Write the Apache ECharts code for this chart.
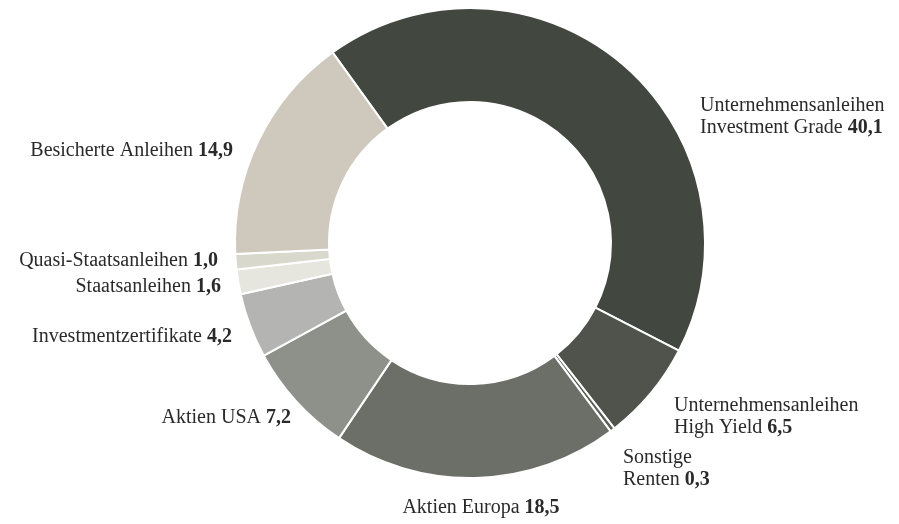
<!DOCTYPE html>
<html>
<head>
<meta charset="utf-8">
<script src="https://cdn.jsdelivr.net/npm/echarts@6/dist/echarts.min.js"></script>
<style>
  html, body { margin: 0; padding: 0; background: #fff; }
  #chart { width: 899px; height: 524px; }
</style>
</head>
<body>
<div id="chart"></div>
<script>
// Anteile in %, im Uhrzeigersinn ab oben
const names = [
  'Unternehmensanleihen\nInvestment Grade',
  'Unternehmensanleihen\nHigh Yield',
  'Sonstige\nRenten',
  'Aktien Europa',
  'Aktien USA',
  'Investmentzertifikate',
  'Staatsanleihen',
  'Quasi-Staatsanleihen',
  'Besicherte Anleihen'
]
const values = [40.1, 6.5, 0.3, 18.5, 7.2, 4.2, 1.6, 1.0, 14.9]
const colors = ['#424740', '#50534b', '#5b5e56', '#6c6f67', '#8e908a', '#b4b4b2', '#e6e6df', '#d9d8cd', '#cfc9bd']

// where each label sits (x, y, align)
const labelPos = [
  [700, 117, 'left'],
  [674, 417, 'left'],
  [623, 469, 'left'],
  [481, 508, 'center'],
  [291, 418, 'right'],
  [232, 337, 'right'],
  [221, 287, 'right'],
  [218, 261, 'right'],
  [233, 151, 'right']
]

let chartData = []
for (let i = 0; i < values.length; i++) {
  chartData.push({ name: names[i], value: values[i], itemStyle: { color: colors[i] } })
}

const myChart = echarts.init(document.getElementById('chart'))

myChart.setOption({
  animation: false,
  series: [
    {
      type: 'pie',
      center: [470, 243],
      radius: [141, 235],
      startAngle: 125.8,
      clockwise: true,
      avoidLabelOverlap: false,
      silent: true,
      itemStyle: { borderColor: '#fff', borderWidth: 2 },
      label: {
        show: true,
        position: 'outside',
        fontFamily: 'Liberation Serif',
        fontSize: 20,
        lineHeight: 22,
        color: '#2a2a2a',
        formatter: p => p.name + ' {v|' + p.value.toFixed(1).replace('.', ',') + '}',
        rich: {
          v: { fontFamily: 'Liberation Serif', fontSize: 20, lineHeight: 22, fontWeight: 'bold', color: '#2a2a2a' }
        }
      },
      labelLine: { show: false },
      labelLayout: params => {
        const pos = labelPos[params.dataIndex]
        return { x: pos[0], y: pos[1], align: pos[2], verticalAlign: 'middle' }
      },
      data: chartData
    }
  ]
})
</script>
</body>
</html>
